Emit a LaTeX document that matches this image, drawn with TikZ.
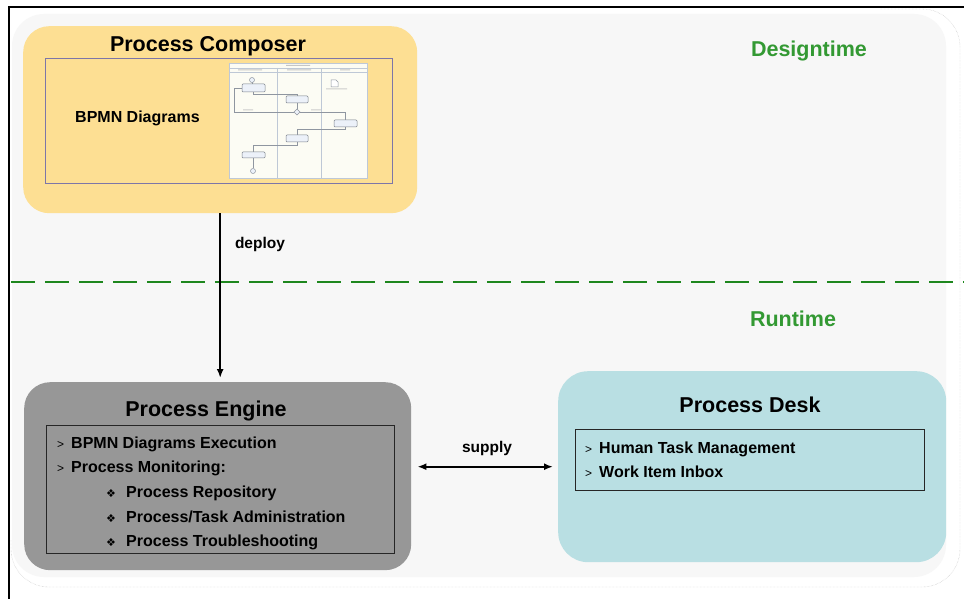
\documentclass[tikz,border=0pt]{standalone}
\usepackage{fontspec}
\setmainfont{Liberation Sans}
\newfontfamily\symfont{DejaVu Sans}
\usetikzlibrary{arrows.meta}

\definecolor{panelfill}{RGB}{247,247,247}
\definecolor{composerfill}{RGB}{253,223,147}
\definecolor{composerline}{RGB}{125,118,168}
\definecolor{enginefill}{RGB}{151,151,151}
\definecolor{deskfill}{RGB}{185,223,227}
\definecolor{phasegreen}{RGB}{51,153,51}
\definecolor{dashgreen}{RGB}{30,135,30}
\definecolor{thumbbg}{RGB}{252,252,244}
\definecolor{thumbline}{RGB}{190,200,214}
\definecolor{thumbtask}{RGB}{236,241,249}

% list bullets
\newcommand\chev{\makebox[14pt][l]{\mdseries\fontsize{12}{12}\selectfont >}}
\newcommand\dia{\makebox[20pt][l]{\symfont\fontsize{11}{11}\selectfont ❖}}

\begin{document}
\begin{tikzpicture}[x=1pt, y=-1pt, >={Latex[length=9pt,width=7pt]},
    toolbox/.style={anchor=north west, rounded corners=26pt, inner sep=0pt},
    listbox/.style={anchor=north west, draw=black!85, line width=1pt, inner sep=0pt},
    boxtitle/.style={anchor=base, inner sep=0pt, font=\bfseries\fontsize{21.5}{25}\selectfont},
    phase/.style={anchor=base, inner sep=0pt, text=phasegreen, font=\bfseries\fontsize{21.5}{25}\selectfont},
    entry/.style={anchor=base west, inner sep=0pt, font=\bfseries\fontsize{16}{19}\selectfont},
    flowlabel/.style={anchor=base, inner sep=0pt, font=\bfseries\fontsize{15.5}{18}\selectfont},
    flow/.style={line width=2.2pt},
    thumbflow/.style={thumbline!75!black, line width=0.5pt},
    thumbbox/.style={draw=thumbline!65!black, fill=thumbtask, line width=0.5pt, rounded corners=1pt},
  ]
  \useasboundingbox (0,0) rectangle (964,599);
  \fill[white] (0,0) rectangle (964,599);

  % frame lines
  \draw[line width=2pt] (9,599) -- (9,7) -- (964,7);

  % background panel
  \fill[white, rounded corners=38pt] (11,9) rectangle (960,587);
  \draw[gray!55, densely dotted, rounded corners=38pt] (880,9) -- (960,9) -- (960,587) -- (11,587) -- (11,540);
  \fill[panelfill, rounded corners=32pt] (12,14) rectangle (946,577);

  % design / run split
  \draw[dashgreen, line width=2.6pt, dash pattern=on 24pt off 10pt] (11,282) -- (964,282);
  \node[phase] (designtime) at (809,57) {Designtime};
  \node[phase] (runtime) at (793,326) {Runtime};

  % Process Composer
  \node[toolbox, fill=composerfill, minimum width=394pt, minimum height=187pt] (composer) at (23,26) {};
  \node[boxtitle] (composertitle) at (208,52) {Process Composer};
  \node[listbox, draw=composerline, line width=1.3pt, minimum width=347pt, minimum height=125pt] (composerlist) at (45,58) {};
  \node[entry] (bpmn) at (75,123) {BPMN Diagrams};

  % BPMN thumbnail
  \fill[thumbbg] (229,63) rectangle (367,178);
  \draw[thumbline, line width=0.4pt] (229,63) rectangle (367,178);
  \draw[thumbline, line width=0.4pt] (229,68) -- (367,68) (229,72) -- (367,72)
    (277,68) -- (277,178) (321,68) -- (321,178);
  \fill[gray!45] (286,65) rectangle (310,66) (238,69.5) rectangle (262,70.5)
    (287,69.5) rectangle (311,70.5) (340,69.5) rectangle (350,70.5);
  \draw[thumbflow] (252,82.5) -- (252,84) (253,92) -- (253,94) -- (297,94) -- (297,96)
    (297,103) -- (297,109) (294,112) -- (234,112) -- (234,88) -- (242,88)
    (300,112) -- (345,112) -- (345,120) (345,127) -- (345,129) -- (297,129) -- (297,135)
    (297,142) -- (297,145) -- (253,145) -- (253,152) (253,158) -- (253,168.5);
  \draw[thumbbox] (242,84) rectangle (265,92) (286,96) rectangle (308,103)
    (334,120) rectangle (357,127) (286,135) rectangle (308,142) (242,152) rectangle (265,158);
  \draw[thumbflow, fill=thumbtask] (252,80) circle (2.5pt) (253,171) circle (2.5pt);
  \draw[thumbflow, fill=thumbtask] (297,109) -- (300,112) -- (297,115) -- (294,112) -- cycle;
  \draw[thumbflow, fill=white] (331,80) -- (336,80) -- (338,82) -- (338,87) -- (331,87) -- cycle;
  \fill[gray!40] (326,88.5) rectangle (347,89.3) (243,109.5) rectangle (253,110.3)
    (311,109.5) rectangle (321,110.3);

  % Process Engine
  \node[toolbox, fill=enginefill, minimum width=387pt, minimum height=188pt] (engine) at (24,382) {};
  \node[boxtitle] (enginetitle) at (206,416) {Process Engine};
  \node[listbox, minimum width=348pt, minimum height=128pt] (enginelist) at (46,425) {};
  \node[entry] (execution) at (57,448) {\chev BPMN Diagrams Execution};
  \node[entry] (monitoring) at (57,472) {\chev Process Monitoring:};
  \node[entry] (repository) at (106,497) {\dia Process Repository};
  \node[entry] (administration) at (106,522) {\dia Process/Task Administration};
  \node[entry] (troubleshooting) at (106,546) {\dia Process Troubleshooting};

  % Process Desk
  \node[toolbox, fill=deskfill, rounded corners=30pt, minimum width=388pt, minimum height=191pt] (desk) at (558,371) {};
  \node[boxtitle] (desktitle) at (750,412) {Process Desk};
  \node[listbox, minimum width=349pt, minimum height=61pt] (desklist) at (575,429) {};
  \node[entry] (tasks) at (585,453) {\chev Human Task Management};
  \node[entry] (inbox) at (585,477) {\chev Work Item Inbox};

  % connections
  \draw[flow, ->, shorten >=4pt] (composer.south) -- (composer.south |- engine.north);
  \node[flowlabel] (deploy) at (260,248) {deploy};
  \draw[flow, <->, shorten <=6pt, shorten >=5pt] (engine.east |- desk.west) -- (desk.west);
  \node[flowlabel] (supply) at (487,452) {supply};
\end{tikzpicture}
\end{document}
